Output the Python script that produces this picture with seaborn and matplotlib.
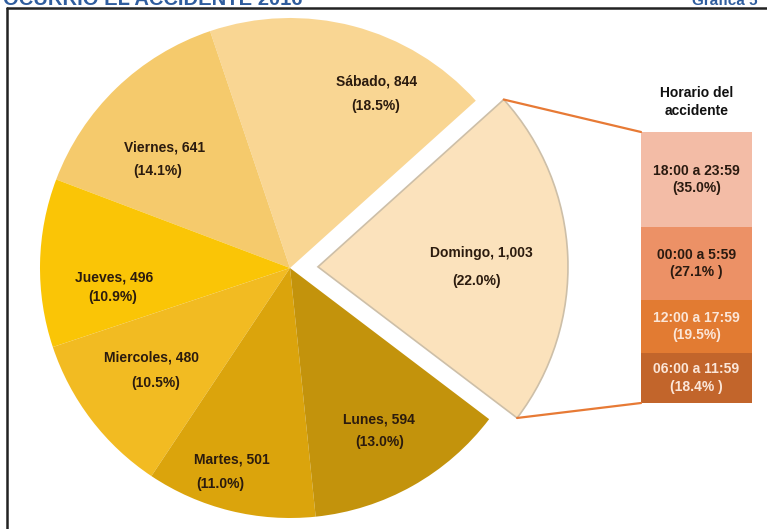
import matplotlib
matplotlib.use("Agg")
import matplotlib.pyplot as plt
import seaborn as sns
import numpy as np
from matplotlib.patches import ConnectionPatch
from matplotlib.lines import Line2D

# ---------------- data ----------------
days = ["Domingo", "Sábado", "Viernes", "Jueves", "Miercoles", "Martes", "Lunes"]
counts = [1003, 844, 641, 496, 480, 501, 594]
count_labels = ["1,003", "844", "641", "496", "480", "501", "594"]
day_pcts = [22.0, 18.5, 14.1, 10.9, 10.5, 11.0, 13.0]

hours = ["06:00 a 11:59", "12:00 a 17:59", "00:00 a 5:59", "18:00 a 23:59"]
hour_pcts = [18.4, 19.5, 27.1, 35.0]
hour_pct_labels = ["(18.4% )", "(19.5%)", "(27.1% )", "(35.0%)"]

title_text = "OCURRIO EL ACCIDENTE 2016"
graph_no = "Gráfica 5"
bar_title = "Horario del\naccidente"

# ---------------- style ----------------
day_colors = ["#FBE2BC", "#F9D693", "#F5CA6C", "#FAC506", "#F2BB22", "#DBA40C", "#C3930C"]
hour_colors = ["#C2652B", "#E27B32", "#EC9166", "#F3BCA6"]
hour_text_colors = ["#FBE6D8", "#FBE6D8", "#2A1A10", "#2A1A10"]

# label positions in pixel coords (x, y from top): name, pct
name_pos = [(481, 253), (377, 81), (165, 148), (114, 278), (151, 358), (232, 460), (379, 419)]
pct_pos = [(477, 281), (376, 106), (158, 171), (113, 297), (156, 383), (220, 484), (380, 442)]

W, H = 767, 529
sns.set_theme(style="white")
plt.rcParams['font.family'] = ['Liberation Sans', 'DejaVu Sans']

fig = plt.figure(figsize=(W / 100, H / 100), dpi=100)
fig.patch.set_facecolor("white")
ax = fig.add_axes([0, 0, 1, 1])

cx, cy = 290, H - 268
wedges, _ = ax.pie(counts, colors=day_colors, startangle=-37.2, counterclock=True,
                   explode=[28, 0, 0, 0, 0, 0, 0], center=(cx, cy), radius=250,
                   frame=True, wedgeprops=dict(linewidth=0))
wedges[0].set_edgecolor("#CDBFA8")
wedges[0].set_linewidth(1.2)
ax.set_xlim(0, W)
ax.set_ylim(0, H)
ax.set_aspect('equal')
ax.axis('off')

for i, d in enumerate(days):
    nx, ny = name_pos[i]
    px, py = pct_pos[i]
    ax.text(nx, H - ny, f"{d}, {count_labels[i]}", ha="center", va="center",
            fontsize=10, fontweight="bold", color="#2B1B0E")
    ax.text(px, H - py, f"({day_pcts[i]:.1f}%)", ha="center", va="center",
            fontsize=10, fontweight="bold", color="#2B1B0E")

# ---------------- stacked bar ----------------
bx0, bx1, by0, by1 = 641, 752, 132, 403
bax = fig.add_axes([bx0 / W, (H - by1) / H, (bx1 - bx0) / W, (by1 - by0) / H])
bottom = 0
for lab, p, c, tc, pl in zip(hours, hour_pcts, hour_colors, hour_text_colors, hour_pct_labels):
    bax.bar(0, p, bottom=bottom, width=1, color=c, edgecolor="none")
    bax.text(0, bottom + p / 2, f"{lab}\n{pl}", ha="center", va="center",
             fontsize=10, fontweight="bold", color=tc, linespacing=1.3)
    bottom += p
bax.set_xlim(-0.5, 0.5)
bax.set_ylim(0, bottom)
bax.axis('off')

fig.text((bx0 + bx1) / 2 / W, 1 - 102 / H, bar_title, ha="center", va="center",
         fontsize=10, fontweight="bold", color="#111111", linespacing=1.45)

# connection lines from the exploded wedge to the bar
w = wedges[0]
wcx, wcy = w.center
r = w.r
for theta, yb in [(w.theta2, bottom), (w.theta1, 0)]:
    px = wcx + r * np.cos(np.radians(theta))
    py = wcy + r * np.sin(np.radians(theta))
    con = ConnectionPatch(xyA=(px, py), coordsA=ax.transData,
                          xyB=(-0.5, yb), coordsB=bax.transData,
                          color="#E77A35", linewidth=1.6)
    fig.add_artist(con)

# frame and cut-off heading
fig.add_artist(Line2D([7 / W, 7 / W], [0, 1 - 8 / H], color="#222222", linewidth=1.8,
                      transform=fig.transFigure))
fig.add_artist(Line2D([7 / W, 1], [1 - 8 / H, 1 - 8 / H], color="#222222", linewidth=1.8,
                      transform=fig.transFigure))
fig.text(3 / W, 1 - 5 / H, title_text, ha="left", va="baseline", fontsize=14.5,
         fontweight="bold", color="#2F5D9E")
fig.text(758 / W, 1 - 5 / H, graph_no, ha="right", va="baseline", fontsize=11,
         fontweight="bold", color="#2F5D9E")

fig.savefig("out.png", dpi=100, facecolor="white")
